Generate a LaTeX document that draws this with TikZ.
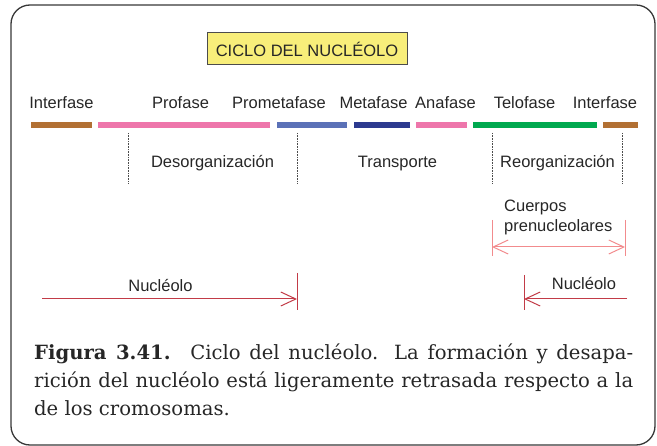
\documentclass[tikz,border=0pt]{standalone}
\usepackage{fontspec}
\setmainfont{DejaVu Serif}
\newfontfamily\etiqfont{Liberation Sans}
\usetikzlibrary{arrows.meta,positioning}

\definecolor{bronce}{HTML}{B27033}
\definecolor{rosa}{HTML}{EE76AB}
\definecolor{azulclaro}{HTML}{5B71B7}
\definecolor{azuloscuro}{HTML}{2C3A8F}
\definecolor{verde}{HTML}{00A94F}
\definecolor{rojo}{HTML}{C23B47}
\definecolor{rojoclaro}{HTML}{F28B8D}
\definecolor{amarillo}{HTML}{F8EE7A}

\begin{document}
\begin{tikzpicture}[x=1pt, y=-1pt,
    >={Straight Barb[length=15pt,width=14pt,line width=1pt]},
    every node/.style={font=\etiqfont\fontsize{16.5}{20}\selectfont, text=black!85, inner sep=0pt},
    fase/.style={line width=5.5pt},
    guia/.style={line width=0.8pt, black!70, dash pattern=on 0.8pt off 0.8pt},
    cota/.style={line width=1pt}]

    % --- 1. 基準の定義 ---
    % yEtiq: 時期名, yFase: 色帯, yGuia: 点線, yNuc: 核小体の矢印
    \def\yEtiq{109}
    \def\yFase{125}
    \def\yGuiaA{133}
    \def\yGuiaB{183}
    \def\yEtapa{168}
    \def\yCuerpo{247}
    \def\yNuc{299}

    \useasboundingbox (0,0) rectangle (657,446);

    % 外枠
    \draw[line width=1.3pt, black!78, rounded corners=19pt] (11,5) rectangle (655,445);

    % --- 2. 表題 ---
    \node[draw=black!70, line width=1pt, fill=amarillo, minimum width=200pt,
          minimum height=32pt] (titulo) at (307,49) {CICLO DEL NUCLÉOLO};

    % --- 3. 時期名と色帯 ---
    \foreach \nom/\xc/\xa/\xb/\col in {Interfase/61.5/31/92/bronce,
        Profase/180.5/98/270/rosa, Prometafase/279/277/347/azulclaro,
        Metafase/373.5/354/410/azuloscuro, Anafase/445.5/416/467/rosa,
        Telofase/524.5/473/597/verde, Interfase/605/603/638/bronce}{
      \node[anchor=base] (et-\xc) at (\xc, \yEtiq) {\nom};
      \draw[fase, \col] (\xa, \yFase) -- (\xb, \yFase);
    }

    % --- 4. 点線と段階名 ---
    \foreach \xg in {128, 297, 492, 622}
      \draw[guia] (\xg, \yGuiaA) -- (\xg, \yGuiaB);

    \node[anchor=base] (desorg) at (212.5, \yEtapa) {Desorganización};
    \node[anchor=base] (transp) at (397.5, \yEtapa) {Transporte};
    \node[anchor=base] (reorg)  at (557.5, \yEtapa) {Reorganización};

    % --- 5. 核小体前駆体 ---
    \node[anchor=base west, align=left] (cuerpos) at (504, 232)
      {Cuerpos\\prenucleolares};
    \coordinate (cpA) at (492, \yCuerpo);
    \coordinate (cpB) at (625, \yCuerpo);
    \draw[cota, rojoclaro] (492, 220) -- (492, 256);
    \draw[cota, rojoclaro] (625, 220) -- (625, 256);
    \draw[cota, rojoclaro, <->] (cpA) -- (cpB);

    % --- 6. 核小体 ---
    \coordinate (nucIzqA) at (42, \yNuc);
    \coordinate (nucIzqB) at (297, \yNuc);
    \draw[cota, rojo] (297, 273) -- (297, 310);
    \draw[cota, rojo, ->] (nucIzqA) -- (nucIzqB);
    \node[anchor=base] (nucIzq) at (160.5, 292) {Nucléolo};

    \coordinate (nucDerA) at (627, \yNuc);
    \coordinate (nucDerB) at (524, \yNuc);
    \draw[cota, rojo] (524, 275) -- (524, 310);
    \draw[cota, rojo, ->] (nucDerA) -- (nucDerB);
    \node[anchor=base] (nucDer) at (584, 290) {Nucléolo};

    % --- 7. 図の説明 ---
    \node[anchor=base west, text width=599pt, align=justify,
          font=\rmfamily\fontsize{19.6}{28}\selectfont] (leyenda) at (34, 360)
      {\textbf{Figura 3.41.}\quad Ciclo del nucléolo. La formación y desapa-\linebreak
       rición del nucléolo está ligeramente retrasada respecto a la\linebreak
       de los cromosomas.};

\end{tikzpicture}
\end{document}
